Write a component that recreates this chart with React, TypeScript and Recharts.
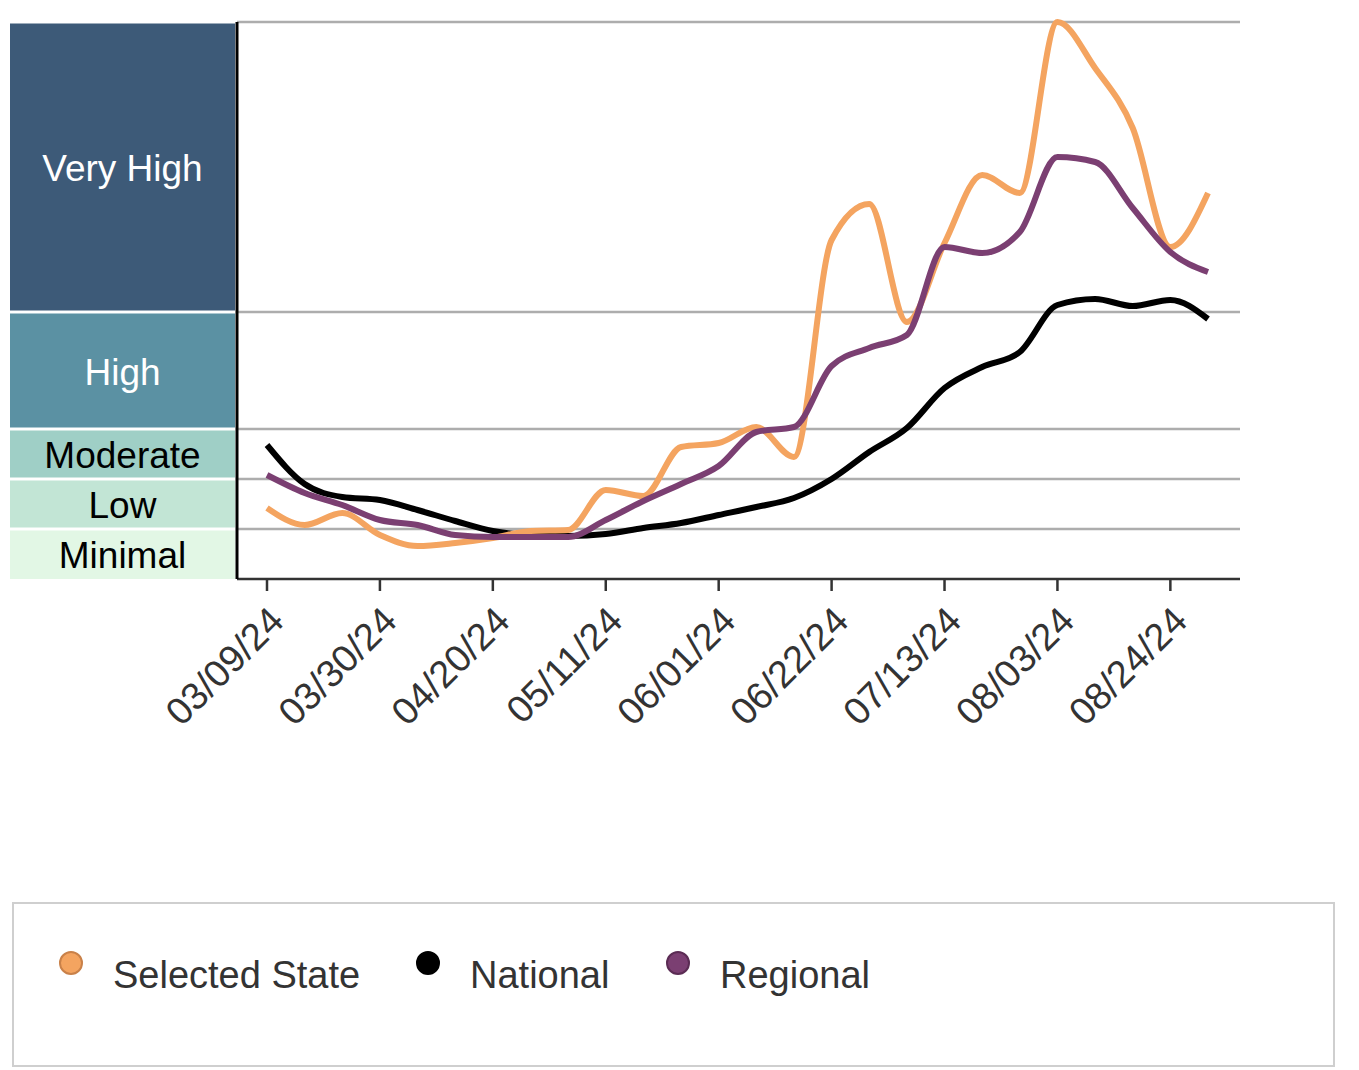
import { LineChart, Line, XAxis, YAxis, ReferenceLine } from 'recharts'

const dates = [
  '03/09/24', '03/16/24', '03/23/24', '03/30/24', '04/06/24', '04/13/24', '04/20/24',
  '04/27/24', '05/04/24', '05/11/24', '05/18/24', '05/25/24', '06/01/24', '06/08/24',
  '06/15/24', '06/22/24', '06/29/24', '07/06/24', '07/13/24', '07/20/24', '07/27/24',
  '08/03/24', '08/10/24', '08/17/24', '08/24/24', '08/31/24',
]

const selectedState = [1.42, 1.08, 1.32, 0.88, 0.66, 0.72, 0.82, 0.96, 0.98, 1.78, 1.66, 2.64, 2.72, 3.04, 2.44, 6.78, 7.5, 5.14, 6.72, 8.08, 7.72, 11.14, 10.22, 9.02, 6.64, 7.72]
const national = [2.68, 1.9, 1.64, 1.58, 1.38, 1.16, 0.96, 0.88, 0.86, 0.9, 1.02, 1.12, 1.28, 1.44, 1.62, 2.0, 2.54, 3.02, 3.82, 4.24, 4.54, 5.48, 5.6, 5.46, 5.58, 5.2]
const regional = [2.08, 1.72, 1.48, 1.18, 1.08, 0.88, 0.84, 0.84, 0.84, 1.18, 1.56, 1.9, 2.26, 2.94, 3.04, 4.26, 4.62, 4.88, 6.64, 6.52, 6.94, 8.44, 8.34, 7.42, 6.54, 6.14]

// activity levels, bottom to top
const levelNames = ['Minimal', 'Low', 'Moderate', 'High', 'Very High']
const levelBounds = [0, 1, 2, 3, 5.34, 11.14]
const levelColors = ['#e2f7e5', '#c2e5d5', '#9fcfc6', '#5b91a3', '#3d5a78']
const levelText = ['#000', '#000', '#000', '#fff', '#fff']

const series = [
  { key: 'national', name: 'National', color: '#000000', border: '#000000' },
  { key: 'state', name: 'Selected State', color: '#f4a460', border: '#c98149' },
  { key: 'regional', name: 'Regional', color: '#7b3f72', border: '#5b2c54' },
]
const legendOrder = ['state', 'national', 'regional']

const data = dates.map((d, i) => ({
  date: d,
  state: selectedState[i],
  national: national[i],
  regional: regional[i],
}))

const FONT = '"Liberation Sans", Arial, Helvetica, sans-serif'
const yMax = levelBounds[levelBounds.length - 1]
const plotHeight = 557
const pxPerUnit = plotHeight / yMax
const mids = levelNames.map((_, i) => (levelBounds[i] + levelBounds[i + 1]) / 2)

function LevelTick(props: any) {
  const { y, payload } = props
  const i = mids.findIndex((m) => Math.abs(m - payload.value) < 1e-6)
  if (i < 0) return null
  const top = y - (levelBounds[i + 1] - mids[i]) * pxPerUnit + 1.5
  const bottom = y + (mids[i] - levelBounds[i]) * pxPerUnit - (i === 0 ? 0 : 1.5)
  return (
    <g>
      <rect x={2} y={top} width={225} height={bottom - top} fill={levelColors[i]} />
      <text x={114.5} y={y + 1} dy="0.36em" textAnchor="middle" fontSize={37} fill={levelText[i]} fontFamily={FONT}>
        {levelNames[i]}
      </text>
    </g>
  )
}

function DateTick(props: any) {
  const { x, y, payload } = props
  const tx = x + 19
  const ty = y + 32
  return (
    <text x={tx} y={ty} transform={`rotate(-45, ${tx}, ${ty})`} textAnchor="end" fontSize={38} fill="#333" fontFamily={FONT}>
      {payload.value}
    </text>
  )
}

function LegendBox() {
  return (
    <div style={{
      position: 'absolute', left: 4, top: 894, width: 1319, height: 161,
      border: '2px solid #cfcfcf', fontFamily: FONT,
    }}>
      {legendOrder.map((k, i) => {
        const s = series.find((x) => x.key === k)!
        const lefts = [43, 400, 650]
        return (
          <div key={k} style={{ position: 'absolute', left: lefts[i], top: 41, display: 'flex', alignItems: 'flex-start' }}>
            <svg width={28} height={28} style={{ marginTop: 4 }}>
              <circle cx={14} cy={14} r={11} fill={s.color} stroke={s.border} strokeWidth={2} />
            </svg>
            <span style={{ marginLeft: 28, fontSize: 38, color: '#333', lineHeight: '44px', marginTop: 8 }}>{s.name}</span>
          </div>
        )
      })}
    </div>
  )
}

export default function App() {
  return (
    <div style={{ position: 'relative', width: 1340, height: 1060 }}>
      <LineChart width={1340} height={760} data={data} margin={{ top: 14, right: 108, bottom: 0, left: 0 }}>
        {levelBounds.slice(1).map((b) => (
          <ReferenceLine key={b} y={b} stroke="#adadad" strokeWidth={2.5} />
        ))}
        <XAxis
          dataKey="date"
          interval={2}
          padding={{ left: 30, right: 32 }}
          height={189}
          tickSize={12}
          tickMargin={0}
          axisLine={{ stroke: '#333', strokeWidth: 2.5 }}
          tickLine={{ stroke: '#333', strokeWidth: 2.5 }}
          tick={<DateTick />}
        />
        <YAxis
          type="number"
          domain={[0, yMax]}
          ticks={mids}
          width={229}
          tickLine={false}
          axisLine={{ stroke: '#000', strokeWidth: 3 }}
          tick={<LevelTick />}
          interval={0}
        />
        {series.map((s) => (
          <Line
            key={s.key}
            dataKey={s.key}
            name={s.name}
            type="monotone"
            stroke={s.color}
            strokeWidth={6}
            dot={false}
            activeDot={false}
            isAnimationActive={false}
          />
        ))}
      </LineChart>
      <LegendBox />
    </div>
  )
}
